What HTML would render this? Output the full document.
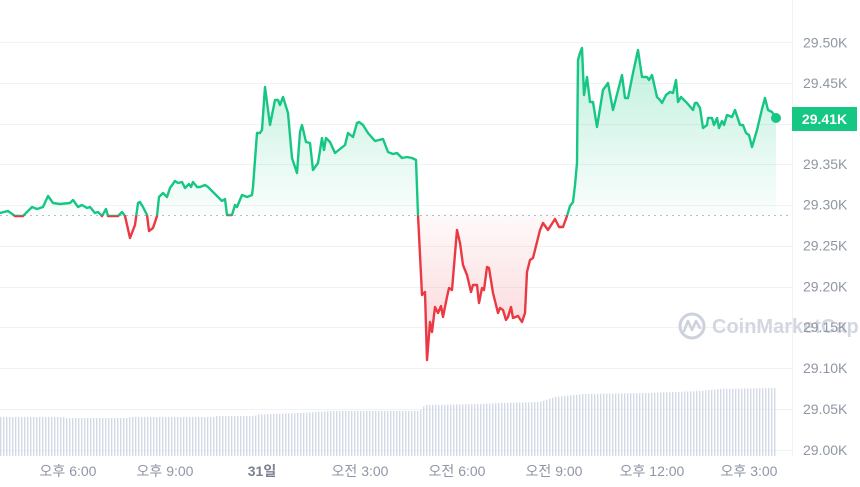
<!DOCTYPE html>
<html><head><meta charset="utf-8">
<style>
html,body{margin:0;padding:0;background:#fff;}
body{width:860px;height:487px;overflow:hidden;}
svg{display:block;}
.yl{font-family:"Liberation Sans","Noto Sans CJK KR",sans-serif;font-size:14px;fill:#8f96a4;}
.xl{font-family:"Liberation Sans","Noto Sans CJK KR",sans-serif;font-size:14px;fill:#8f96a4;text-anchor:middle;}
</style></head>
<body>
<svg width="860" height="487" viewBox="0 0 860 487" xmlns="http://www.w3.org/2000/svg" xmlns:xlink="http://www.w3.org/1999/xlink">
<defs>
  <linearGradient id="gg" gradientUnits="userSpaceOnUse" x1="0" y1="45" x2="0" y2="215">
    <stop offset="0" stop-color="#16c784" stop-opacity="0.28"/>
    <stop offset="1" stop-color="#16c784" stop-opacity="0.02"/>
  </linearGradient>
  <linearGradient id="rg" gradientUnits="userSpaceOnUse" x1="0" y1="215" x2="0" y2="360">
    <stop offset="0" stop-color="#ea3943" stop-opacity="0.03"/>
    <stop offset="1" stop-color="#ea3943" stop-opacity="0.22"/>
  </linearGradient>
  <clipPath id="top"><rect x="0" y="0" width="800" height="215.5"/></clipPath>
  <clipPath id="bot"><rect x="0" y="215.5" width="800" height="260"/></clipPath>
  <pattern id="vb" patternUnits="userSpaceOnUse" width="3" height="10">
    <rect x="0" y="0" width="1.4" height="10" fill="#d3d9e5"/>
  </pattern>
  <clipPath id="volc">
    <polygon points="0,417 65,417 66,418 128,418 130,417 215,417 216,416 255,416 257,414.5 300,413 333,411 420,411 422,408 425,405 480,404 500,403 540,402 555,397 583,394 650,393 700,391 720,389 777,388 777,456 0,456"/>
  </clipPath>
  <path id="pf" d="M0,213 L8,211 L15,216 L23,216 L32,207 L37,209 L43,207 L48,196 L53,203 L60,204 L70,203 L73,200 L78,207 L82,205 L87,208 L90,207 L95,213 L98,212 L102,216 L106,209 L108,216 L118,216 L122,212 L125,216 L130,238 L135,225 L138,203 L140,202 L143,207 L147,215 L149,231 L153,228 L157,216 L159,197 L163,193 L167,197 L170,188 L175,181 L178,183 L182,182 L185,188 L189,184 L191,187 L193,182 L197,187 L200,187 L205,185 L208,187 L213,192 L218,197 L222,201 L225,199 L227,215 L232,215 L235,205 L237,207 L242,195 L247,197 L252,195 L253,187 L257,133 L260,133 L262,130 L265,87 L270,125 L275,100 L278,100 L280,105 L283,97 L288,113 L292,158 L297,173 L300,132 L302,125 L306,142 L310,143 L313,170 L318,163 L322,138 L324,150 L326,138 L330,142 L335,153 L345,145 L348,133 L353,137 L357,123 L359,122 L363,125 L368,133 L375,141 L383,139 L388,152 L393,154 L397,153 L402,158 L407,157 L412,158 L416,160 L418,215 L422,295 L425,292 L427,360 L430,322 L432,332 L435,307 L438,313 L441,306 L443,317 L447,297 L449,288 L452,290 L457,230 L460,243 L463,265 L467,275 L471,292 L473,285 L477,285 L479,303 L482,288 L484,290 L487,267 L489,268 L493,293 L498,313 L500,308 L503,310 L506,320 L508,317 L511,307 L513,318 L518,316 L522,322 L525,313 L527,272 L530,260 L533,258 L537,242 L540,230 L543,223 L548,230 L555,219 L559,227 L563,227 L567,216 L570,206 L573,202 L575,185 L577,163 L578,60 L580,53 L582,48 L584,95 L587,77 L590,102 L593,102 L597,127 L603,90 L608,83 L613,110 L622,75 L625,98 L628,98 L633,73 L638,50 L642,77 L647,77 L649,80 L652,75 L657,97 L660,100 L662,103 L666,95 L670,92 L673,93 L676,80 L678,102 L681,97 L687,103 L693,110 L695,103 L697,103 L700,108 L703,128 L707,125 L708,118 L712,118 L714,125 L717,118 L719,128 L722,121 L724,125 L727,115 L732,117 L735,110 L740,125 L743,125 L746,133 L749,135 L752,147 L757,130 L762,109 L765,98 L768,110 L772,112 L776,118 L776,215 L0,215 Z"/>
  <path id="pl" d="M0,213 L8,211 L15,216 L23,216 L32,207 L37,209 L43,207 L48,196 L53,203 L60,204 L70,203 L73,200 L78,207 L82,205 L87,208 L90,207 L95,213 L98,212 L102,216 L106,209 L108,216 L118,216 L122,212 L125,216 L130,238 L135,225 L138,203 L140,202 L143,207 L147,215 L149,231 L153,228 L157,216 L159,197 L163,193 L167,197 L170,188 L175,181 L178,183 L182,182 L185,188 L189,184 L191,187 L193,182 L197,187 L200,187 L205,185 L208,187 L213,192 L218,197 L222,201 L225,199 L227,215 L232,215 L235,205 L237,207 L242,195 L247,197 L252,195 L253,187 L257,133 L260,133 L262,130 L265,87 L270,125 L275,100 L278,100 L280,105 L283,97 L288,113 L292,158 L297,173 L300,132 L302,125 L306,142 L310,143 L313,170 L318,163 L322,138 L324,150 L326,138 L330,142 L335,153 L345,145 L348,133 L353,137 L357,123 L359,122 L363,125 L368,133 L375,141 L383,139 L388,152 L393,154 L397,153 L402,158 L407,157 L412,158 L416,160 L418,215 L422,295 L425,292 L427,360 L430,322 L432,332 L435,307 L438,313 L441,306 L443,317 L447,297 L449,288 L452,290 L457,230 L460,243 L463,265 L467,275 L471,292 L473,285 L477,285 L479,303 L482,288 L484,290 L487,267 L489,268 L493,293 L498,313 L500,308 L503,310 L506,320 L508,317 L511,307 L513,318 L518,316 L522,322 L525,313 L527,272 L530,260 L533,258 L537,242 L540,230 L543,223 L548,230 L555,219 L559,227 L563,227 L567,216 L570,206 L573,202 L575,185 L577,163 L578,60 L580,53 L582,48 L584,95 L587,77 L590,102 L593,102 L597,127 L603,90 L608,83 L613,110 L622,75 L625,98 L628,98 L633,73 L638,50 L642,77 L647,77 L649,80 L652,75 L657,97 L660,100 L662,103 L666,95 L670,92 L673,93 L676,80 L678,102 L681,97 L687,103 L693,110 L695,103 L697,103 L700,108 L703,128 L707,125 L708,118 L712,118 L714,125 L717,118 L719,128 L722,121 L724,125 L727,115 L732,117 L735,110 L740,125 L743,125 L746,133 L749,135 L752,147 L757,130 L762,109 L765,98 L768,110 L772,112 L776,118"/>
</defs>

<!-- grid -->
<g stroke="#f1f2f4" stroke-width="1">
  <line x1="0" y1="42.5" x2="792" y2="42.5"/>
  <line x1="0" y1="83.5" x2="792" y2="83.5"/>
  <line x1="0" y1="124.5" x2="792" y2="124.5"/>
  <line x1="0" y1="164.5" x2="792" y2="164.5"/>
  <line x1="0" y1="205.5" x2="792" y2="205.5"/>
  <line x1="0" y1="246.5" x2="792" y2="246.5"/>
  <line x1="0" y1="287.5" x2="792" y2="287.5"/>
  <line x1="0" y1="327.5" x2="792" y2="327.5"/>
  <line x1="0" y1="368.5" x2="792" y2="368.5"/>
  <line x1="0" y1="409.5" x2="792" y2="409.5"/>
  <line x1="0" y1="450.5" x2="792" y2="450.5"/>
  <line x1="792.5" y1="0" x2="792.5" y2="456"/>
</g>

<!-- volume -->
<rect x="0" y="380" width="778" height="80" fill="url(#vb)" clip-path="url(#volc)"/>

<!-- watermark -->
<g>
  <circle cx="692" cy="326" r="12" fill="none" stroke="#ccd1db" stroke-width="3"/>
  <path d="M684,331 L688,321 L692,330 L696,321 L700,328" fill="none" stroke="#ccd1db" stroke-width="2.5" stroke-linejoin="round" stroke-linecap="round"/>
  <text x="712" y="333" font-family="Liberation Sans, sans-serif" font-size="20" font-weight="bold" fill="#d3d7e0">CoinMarketCap</text>
</g>

<!-- baseline -->
<line x1="0" y1="215.5" x2="792" y2="215.5" stroke="#b8bdc6" stroke-width="1" stroke-dasharray="2,4"/>

<!-- fills -->
<g clip-path="url(#top)"><use href="#pf" xlink:href="#pf" fill="url(#gg)"/></g>
<g clip-path="url(#bot)"><use href="#pf" xlink:href="#pf" fill="url(#rg)"/></g>

<!-- lines -->
<g clip-path="url(#top)"><use href="#pl" xlink:href="#pl" fill="none" stroke="#16c784" stroke-width="2.4" stroke-linejoin="round" stroke-linecap="round"/></g>
<g clip-path="url(#bot)"><use href="#pl" xlink:href="#pl" fill="none" stroke="#ea3943" stroke-width="2.4" stroke-linejoin="round" stroke-linecap="round"/></g>
<circle cx="776" cy="118" r="5" fill="#16c784"/>

<!-- y labels -->
<g class="yl">
  <text x="803" y="47.5">29.50K</text>
  <text x="803" y="88">29.45K</text>
  <text x="803" y="169">29.35K</text>
  <text x="803" y="209.5">29.30K</text>
  <text x="803" y="250.5">29.25K</text>
  <text x="803" y="291.5">29.20K</text>
  <text x="803" y="332">29.15K</text>
  <text x="803" y="373">29.10K</text>
  <text x="803" y="414">29.05K</text>
  <text x="803" y="455">29.00K</text>
</g>
<rect x="792" y="107" width="65" height="24" fill="#16c784"/>
<text x="824.5" y="124" text-anchor="middle" font-family="Liberation Sans, sans-serif" font-size="14" font-weight="bold" fill="#ffffff">29.41K</text>

<!-- x labels -->
<g class="xl">
  <text x="68" y="476">오후 6:00</text>
  <text x="165" y="476">오후 9:00</text>
  <text x="262" y="476" font-weight="bold" fill="#7b8190">31일</text>
  <text x="360" y="476">오전 3:00</text>
  <text x="457" y="476">오전 6:00</text>
  <text x="554" y="476">오전 9:00</text>
  <text x="652" y="476">오후 12:00</text>
  <text x="749" y="476">오후 3:00</text>
</g>
</svg>
</body></html>
